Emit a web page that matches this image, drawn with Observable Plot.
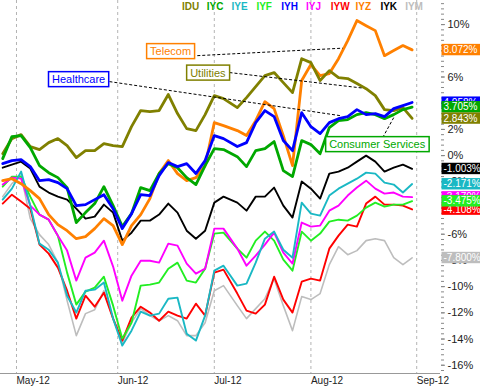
<!DOCTYPE html>
<html><head><meta charset="utf-8">
<script src="https://cdn.jsdelivr.net/npm/d3@7"></script>
<script src="https://cdn.jsdelivr.net/npm/@observablehq/plot@0.6"></script>
<style>
body{margin:0;background:#fff;}
#wrap{position:relative;width:480px;height:388px;font-family:"Liberation Sans",Arial,sans-serif;}
#legend{position:absolute;top:1px;left:182px;white-space:nowrap;font-weight:bold;font-size:10px;line-height:12px;z-index:2;}
#legend span{display:inline-block;width:24.8px;}
</style></head><body><div id="wrap"><div id="legend"></div></div>
<script>
// trading-day index (0 = May 1, 2012)
const days = [-3,-1,1,3,5,7,9,11,13,15,17,19,21,23,25,27,29,31,33,35,37,39,41,43,45,48,50,52,54,56,58,60,62,64,66,68,70,72,74,76,78,80,82,84,86];
const tickDays = [0,22,43,64,87];
const tickLabels = ["May-12","Jun-12","Jul-12","Aug-12","Sep-12"];
const symbols = ["IDU","IYC","IYE","IYF","IYH","IYJ","IYW","IYZ","IYK","IYM"];
const colors  = ["#808000","#00a800","#1ab8c4","#22ee22","#0000ff","#ff00ff","#ff0000","#ff8000","#000000","#bdbdbd"];

const IDU = [0.15,1.3,1.6,0.69,0.46,0.99,1.3,0.76,-0.15,0.38,0.38,0.92,0.76,0.69,2.21,3.44,3.36,3.44,4.66,3.21,2.06,1.91,3.13,4.58,4.35,3.66,4.43,5.27,6.11,6.34,5.57,4.81,7.4,7.1,5.73,6.49,5.95,5.88,5.5,5.11,4.58,3.51,3.44,3.66,2.843];
const IYC = [-0.23,1.45,1.53,0.61,-0.76,-1.3,-1.68,-2.44,-5.11,-4.35,-3.66,-2.37,-3.82,-5.42,-4.43,-2.44,-2.67,-1.37,-0.61,-0.92,-1.68,-2.21,-0.76,0.53,0.46,-0.08,-0.84,0.38,0.53,1.07,-1.15,-1.6,1.15,0.84,0.15,2.14,2.67,2.75,3.13,3.28,3.13,2.82,3.13,3.51,3.705];
const IYE = [-3.36,-2.52,-1.22,-3.82,-6.72,-7.18,-8.17,-10.69,-11.98,-10.31,-10.23,-9.69,-12.44,-14.5,-13.36,-11.91,-12.21,-12.06,-10.92,-10.84,-13.59,-14.12,-12.21,-8.78,-8.4,-9.92,-9.77,-8.17,-6.34,-5.8,-7.18,-7.79,-3.59,-4.43,-4.58,-3.05,-2.52,-2.14,-1.76,-1.3,-1.37,-2.06,-2.21,-2.82,-2.171];
const IYF = [-2.37,-1.6,-1.6,-3.13,-4.5,-4.89,-6.11,-8.93,-11.37,-10.38,-10.08,-9.24,-11.45,-13.97,-12.75,-9.92,-9.85,-9.69,-8.63,-8.17,-9.54,-9.69,-8.63,-5.95,-5.88,-7.1,-7.79,-6.49,-5.8,-6.49,-7.94,-8.78,-5.8,-6.49,-5.95,-5.04,-4.89,-4.96,-4.58,-3.97,-3.59,-3.89,-3.74,-3.74,-3.475];
const IYH = [-0.61,-0.38,-0.31,-0.84,-1.91,-1.83,-2.06,-2.52,-3.82,-3.74,-3.36,-2.98,-4.05,-5.57,-4.43,-2.98,-3.05,-1.53,-0.53,-0.84,-0.61,-1.37,-0.38,1.53,1.3,0.69,0.99,2.52,3.44,2.98,1.15,0.38,3.28,2.21,1.68,2.52,2.82,2.98,3.51,3.13,3.21,2.98,3.59,3.82,4.058];
const IYJ = [-2.21,-1.68,-1.76,-3.82,-4.5,-4.89,-6.11,-7.25,-9.54,-7.79,-7.4,-6.49,-8.47,-11.07,-9.16,-8.02,-8.02,-8.17,-6.72,-6.87,-8.24,-9.01,-8.63,-5.57,-5.57,-7.1,-8.4,-7.63,-6.79,-5.88,-7.4,-8.24,-5.11,-5.42,-5.34,-4.2,-3.82,-3.05,-2.44,-1.91,-2.52,-2.9,-2.82,-3.13,-3.17];
const IYW = [-3.66,-2.98,-3.51,-4.05,-6.79,-7.48,-8.55,-10.31,-12.44,-10.69,-11.53,-10.46,-12.44,-14.12,-12.37,-11.53,-11.98,-12.6,-11.91,-12.21,-12.44,-11.3,-12.21,-8.93,-8.7,-10.53,-11.83,-12.06,-11.37,-9.24,-10.99,-11.98,-9.62,-9.39,-9.54,-7.1,-6.11,-5.27,-5.42,-3.66,-3.13,-3.74,-3.74,-3.82,-4.108];
const IYZ = [-1.91,-1.76,-2.14,-2.67,-3.28,-4.5,-5.27,-5.73,-6.34,-6.18,-5.57,-4.81,-5.34,-6.79,-5.34,-4.5,-3.28,-1.37,-0.38,-1.37,-1.91,-1.68,-0.76,2.52,2.29,1.91,1.53,2.67,4.12,3.59,1.53,-0.76,5.73,6.95,6.11,6.26,7.4,8.78,10.31,9.92,9.54,7.63,8.02,8.4,8.072];
const IYK = [-0.92,-0.69,-0.46,-0.99,-2.37,-2.82,-3.13,-3.36,-4.05,-4.81,-4.66,-3.74,-4.35,-6.49,-5.88,-4.96,-4.96,-4.5,-3.66,-4.35,-5.73,-6.34,-5.73,-3.59,-3.13,-3.59,-4.2,-3.13,-3.13,-2.44,-3.82,-4.73,-1.98,-2.52,-3.28,-1.37,-1.22,-0.92,-0.46,0,-0.46,-1.22,-0.92,-0.69,-1.003];
const IYM = [-3.13,-2.14,-1.53,-4.81,-6.03,-6.79,-8.17,-11.07,-13.74,-12.06,-11.76,-10.31,-12.44,-14.27,-12.75,-11.68,-12.21,-12.6,-12.21,-12.6,-13.74,-13.74,-12.75,-10.31,-9.92,-11.45,-12.44,-11.68,-10.92,-9.39,-11.45,-13.36,-10.76,-10.99,-10.53,-8.32,-6.95,-7.56,-7.25,-6.49,-6.34,-6.49,-7.79,-8.32,-7.8];

const valuesBySym = {IDU, IYC, IYE, IYF, IYH, IYJ, IYW, IYZ, IYK, IYM};
const colorOf = Object.fromEntries(symbols.map((s,i)=>[s, colors[i]]));

// annotation callouts
const annotNames  = ["Telecom","Utilities","Healthcare","Consumer Services"];
const annotSeries = ["IYZ","IDU","IYH","IYC"];
const annotX  = [33.5, 41.6, 13.5, 78.4];
const annotY  = [7.94, 6.30, 5.80, 0.84];
const linkX1  = [39.3, 46.3, 20.2, 79.6];
const linkY1  = [7.63, 6.34, 5.65, 1.37];
const linkX2  = [70.9, 75.4, 70.4, 82.0];
const linkY2  = [8.2, 5.15, 3.05, 2.9];

const yDomain = [-16.63, 11.84];
const xDomain = [-3.478, 92.17];
const majorTicks = d3.range(-16, 11, 2);
const minorTicks = d3.range(-16.4, 11.7, 0.4).map(v => +v.toFixed(1));

// legend
const legend = document.getElementById("legend");
symbols.forEach((s,i)=>{ const sp=document.createElement("span"); sp.textContent=s; sp.style.color=colors[i]; legend.appendChild(sp); });

const lineOrder = ["IYM","IYW","IYF","IYJ","IYE","IYK","IYZ","IDU","IYC","IYH"];
const thick = new Set(["IDU","IYC","IYH","IYZ"]);
const lineMarks = lineOrder.map(s => {
  const rows = valuesBySym[s].map((v,i)=>({day: days[i], v}));
  return Plot.line(rows, {x:"day", y:"v", stroke: colorOf[s], strokeWidth: thick.has(s) ? 2.8 : (s==="IYM" ? 1.6 : 1.9), strokeLinejoin:"round"});
});

const connectors = annotNames.map((n,i)=>({x1:linkX1[i], y1:linkY1[i], x2:linkX2[i], y2:linkY2[i]}));
const annotColor = Object.fromEntries(annotNames.map((n,i)=>[n, colorOf[annotSeries[i]]]));
const annotMarks = annotNames.map((n,i)=> Plot.text([{x:annotX[i], y:annotY[i], t:n}], {x:"x", y:"y", text:"t", fill: colorOf[annotSeries[i]], fontSize:11}));

const labelOrder = ["IYH","IYC","IDU","IYZ","IYK","IYE","IYJ","IYW","IYF","IYM"];
const endLabels = labelOrder.map(s => { const a = valuesBySym[s]; const v = a[a.length-1]; return {s, v, label: v.toFixed(3)+"%", color: colorOf[s]}; });
const endColor = Object.fromEntries(endLabels.map(d=>[d.label, d.color]));

const chart = Plot.plot({
  width:480, height:388, marginLeft:0, marginRight:40, marginTop:0, marginBottom:15,
  style:{fontFamily:'"Liberation Sans", Arial, sans-serif', fontSize:"11px", background:"white", overflow:"visible", color:"#222"},
  x:{type:"linear", domain:xDomain},
  y:{domain:yDomain},
  marks:[
    Plot.gridX(tickDays, {stroke:"#b4b4b4", strokeOpacity:1, strokeDasharray:"3,3"}),
    Plot.ruleY([yDomain[0]], {stroke:"#999"}),
    Plot.axisX(tickDays, {tickSize:0, tickPadding:3, tickFormat: d => tickLabels[tickDays.indexOf(d)], textAnchor:"start", fontSize:10, fill:"#222"}),
    Plot.axisY(minorTicks, {anchor:"right", tickSize:3, tickFormat: () => "", stroke:"#888"}),
    Plot.axisY(majorTicks, {anchor:"right", tickSize:4, tickPadding:3, tickFormat: d => d + "%", fontSize:11, fill:"#222", stroke:"#888"}),
    ...lineMarks,
    Plot.link(connectors, {x1:"x1", y1:"y1", x2:"x2", y2:"y2", stroke:"#000", strokeWidth:1, strokeDasharray:"3,2"}),
    ...annotMarks,
    Plot.text(endLabels, {y:"v", text:"label", frameAnchor:"right", textAnchor:"start", dx:3, fill:"white", fontSize:10})
  ]
});
document.getElementById("wrap").appendChild(chart);

const NS = "http://www.w3.org/2000/svg";
function boxBehind(textEl, fill, stroke, padX, padY, fullRight){
  const b = textEl.getBBox();
  const r = document.createElementNS(NS, "rect");
  r.setAttribute("x", b.x - padX); r.setAttribute("y", b.y - padY);
  r.setAttribute("width", fullRight ? 60 : b.width + 2*padX); r.setAttribute("height", b.height + 2*padY);
  r.setAttribute("fill", fill);
  if (stroke) { r.setAttribute("stroke", stroke); r.setAttribute("stroke-width", 1.5); }
  const tr = textEl.getAttribute("transform"); if (tr) r.setAttribute("transform", tr);
  textEl.parentNode.insertBefore(r, textEl);
}
chart.querySelectorAll("text").forEach(t => {
  const s = t.textContent;
  if (endColor[s]) boxBehind(t, endColor[s], null, 2, 0.2, true);
  else if (annotColor[s]) boxBehind(t, "white", annotColor[s], 3.5, 1.5, false);
});
</script></body></html>
